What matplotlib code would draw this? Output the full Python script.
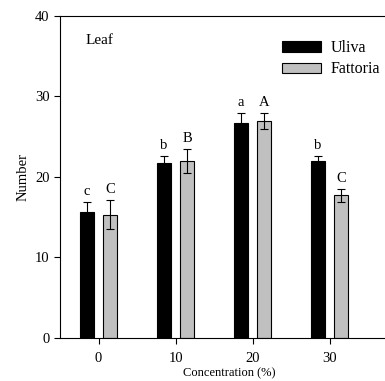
import matplotlib
matplotlib.use("Agg")
import matplotlib.pyplot as plt
import numpy as np

# data
concentrations = [0, 10, 20, 30]
uliva = [15.7, 21.7, 26.7, 22.0]
uliva_err = [1.2, 0.9, 1.3, 0.6]
fattoria = [15.3, 22.0, 27.0, 17.7]
fattoria_err = [1.8, 1.5, 1.0, 0.8]
uliva_letters = ["c", "b", "a", "b"]
fattoria_letters = ["C", "B", "A", "C"]

plt.rcParams['font.family'] = ['Liberation Serif', 'DejaVu Serif']

fig = plt.figure(figsize=(3.85, 3.81), dpi=100)
ax = fig.add_axes([0.156, 0.113, 0.88, 0.845])

x = np.array(concentrations, dtype=float)
off = 1.5
w = 1.9
ax.bar(x - off, uliva, w, color='black', edgecolor='black', lw=0.8, label='Uliva')
ax.bar(x + off, fattoria, w, color='#c0c0c0', edgecolor='black', lw=0.8, label='Fattoria')
ax.errorbar(x - off, uliva, yerr=uliva_err, fmt='none', ecolor='black', elinewidth=0.8, capsize=3, capthick=0.8)
ax.errorbar(x + off, fattoria, yerr=fattoria_err, fmt='none', ecolor='black', elinewidth=0.8, capsize=3, capthick=0.8)

for xi, v, e, s in zip(x - off, uliva, uliva_err, uliva_letters):
    ax.text(xi, v + e + 0.5, s, ha='center', va='bottom', fontsize=10.5)
for xi, v, e, s in zip(x + off, fattoria, fattoria_err, fattoria_letters):
    ax.text(xi, v + e + 0.5, s, ha='center', va='bottom', fontsize=10.5)

ax.set_xlim(-5, 39)
ax.set_ylim(0, 40)
ax.set_xticks(concentrations)
ax.set_yticks([0, 10, 20, 30, 40])
ax.tick_params(direction='out', length=4, width=0.8, labelsize=10.5)
ax.tick_params(axis='x', pad=6)
ax.spines['right'].set_visible(False)
for s in ['left', 'top', 'bottom']:
    ax.spines[s].set_linewidth(0.8)

ax.set_xlabel("Concentration (%)", fontsize=9, labelpad=2)
ax.set_ylabel("Number", fontsize=10.5)
ax.text(0.075, 0.925, "Leaf", transform=ax.transAxes, fontsize=11, va='center')

ax.legend(loc='upper left', bbox_to_anchor=(0.645, 0.935), frameon=False,
          fontsize=11.5, handlelength=2.45, handleheight=0.6, labelspacing=0.32,
          handletextpad=0.6, borderaxespad=0, borderpad=0.2)

fig.savefig("out.png", dpi=100)
